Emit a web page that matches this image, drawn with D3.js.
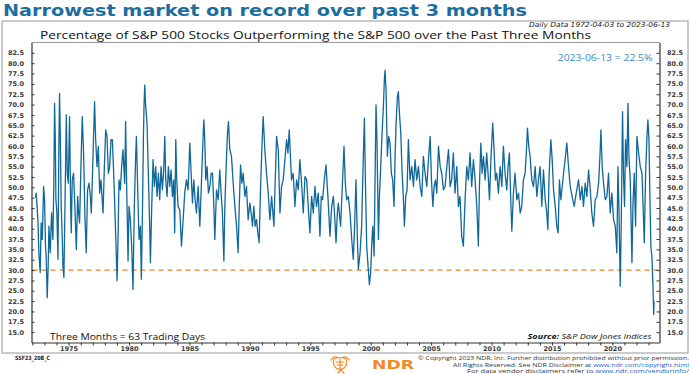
<!DOCTYPE html>
<html><head><meta charset="utf-8">
<script src="https://cdn.jsdelivr.net/npm/d3@7/dist/d3.min.js"></script>
<style>
html,body{margin:0;padding:0;background:#fff;}
svg{display:block;}
text{font-family:"DejaVu Sans",sans-serif;}
</style></head>
<body>
<svg id="c" width="692" height="374"></svg>
<script>
// ---- data (decimal year, % of S&P 500 stocks outperforming) ----
const s1972_1991 = [[1972.27,47.5],[1972.32,48.6],[1972.46,42.2],[1972.54,34.2],[1972.65,29.4],[1972.73,41.4],[1972.82,37.4],[1972.93,50.2],[1973.01,47.0],[1973.09,35.8],[1973.15,32.6],[1973.23,23.3],[1973.31,31.0],[1973.37,40.6],[1973.48,34.2],[1973.59,43.8],[1973.70,37.4],[1973.78,51.8],[1973.84,70.3],[1973.90,61.5],[1973.95,47.0],[1974.03,43.8],[1974.12,32.6],[1974.20,61.5],[1974.25,72.7],[1974.31,63.1],[1974.39,45.4],[1974.48,37.4],[1974.53,31.0],[1974.61,28.2],[1974.70,45.4],[1974.81,67.5],[1974.89,53.4],[1974.97,51.0],[1975.08,67.1],[1975.17,45.4],[1975.22,39.0],[1975.30,51.8],[1975.41,53.4],[1975.52,45.4],[1975.64,35.0],[1975.75,47.8],[1975.83,43.8],[1975.91,41.4],[1976.02,55.0],[1976.13,67.1],[1976.24,58.3],[1976.35,43.0],[1976.46,34.2],[1976.57,49.4],[1976.69,51.0],[1976.80,47.8],[1976.88,43.8],[1977.02,57.5],[1977.15,70.7],[1977.24,61.5],[1977.35,55.0],[1977.46,59.9],[1977.57,48.6],[1977.68,51.8],[1977.85,43.8],[1977.96,55.0],[1978.07,63.9],[1978.18,62.3],[1978.29,53.4],[1978.40,55.0],[1978.51,61.5],[1978.62,61.5],[1978.73,53.4],[1978.84,43.8],[1978.95,33.4],[1979.01,27.4],[1979.09,37.4],[1979.17,51.8],[1979.28,49.4],[1979.39,55.0],[1979.50,59.1],[1979.64,51.0],[1979.72,65.9],[1979.81,49.4],[1979.92,32.2],[1980.00,45.4],[1980.11,42.2],[1980.22,35.8],[1980.33,25.3],[1980.44,45.4],[1980.55,57.5],[1980.61,62.3],[1980.72,49.4],[1980.83,37.4],[1980.94,40.6],[1981.02,27.8],[1981.10,41.4],[1981.19,61.5],[1981.24,69.5],[1981.30,74.7],[1981.38,69.5],[1981.49,65.5],[1981.60,53.4],[1981.71,40.6],[1981.77,31.8],[1981.88,45.4],[1981.99,56.7],[1982.10,50.2],[1982.21,55.0],[1982.32,47.8],[1982.43,53.4],[1982.54,47.0],[1982.65,55.0],[1982.76,49.4],[1982.87,54.2],[1982.96,62.3],[1983.04,51.8],[1983.15,47.8],[1983.26,55.0],[1983.37,50.2],[1983.48,54.2],[1983.59,47.8],[1983.70,51.8],[1983.78,39.0],[1983.87,61.5],[1983.95,51.8],[1984.06,45.4],[1984.20,44.6],[1984.34,35.8],[1984.48,42.2],[1984.61,48.6],[1984.75,51.8],[1984.89,49.4],[1985.03,60.7],[1985.14,53.4],[1985.25,46.2],[1985.36,51.8],[1985.47,47.0],[1985.58,43.8],[1985.72,50.2],[1985.86,40.6],[1985.97,49.4],[1986.08,58.3],[1986.19,66.3],[1986.27,61.5],[1986.35,51.8],[1986.46,55.0],[1986.57,48.6],[1986.69,50.2],[1986.80,53.4],[1986.91,53.4],[1987.02,45.4],[1987.10,37.4],[1987.24,49.4],[1987.38,47.0],[1987.51,54.2],[1987.62,48.6],[1987.73,43.8],[1987.85,32.2],[1987.93,45.4],[1988.07,57.5],[1988.15,63.1],[1988.23,65.9],[1988.34,59.1],[1988.48,57.5],[1988.62,51.0],[1988.76,45.4],[1988.90,40.6],[1989.03,34.2],[1989.12,45.4],[1989.23,55.4],[1989.34,51.0],[1989.45,53.4],[1989.59,47.8],[1989.72,50.2],[1989.86,42.2],[1990.00,46.2],[1990.11,43.8],[1990.22,40.6],[1990.33,45.4],[1990.44,40.6],[1990.55,42.2],[1990.66,39.0],[1990.77,36.6],[1990.88,49.4],[1990.99,59.1],[1991.10,67.1]];
const s1991_2006 = [[1991.24,59.1],[1991.38,53.4],[1991.52,48.6],[1991.66,42.2],[1991.80,47.8],[1991.99,40.6],[1992.10,51.8],[1992.21,62.3],[1992.35,59.1],[1992.49,43.8],[1992.62,50.2],[1992.76,51.8],[1992.90,56.7],[1993.04,61.5],[1993.15,58.3],[1993.26,63.9],[1993.37,56.7],[1993.45,51.8],[1993.59,53.4],[1993.73,45.4],[1993.87,51.8],[1994.01,49.4],[1994.14,56.7],[1994.28,51.0],[1994.42,43.8],[1994.56,52.6],[1994.70,51.8],[1994.83,45.4],[1994.97,39.0],[1995.11,47.8],[1995.25,43.8],[1995.39,50.2],[1995.52,45.4],[1995.66,48.6],[1995.80,38.2],[1995.91,47.8],[1996.02,47.0],[1996.16,51.8],[1996.30,55.4],[1996.46,47.8],[1996.63,38.2],[1996.77,45.4],[1996.91,47.8],[1997.02,43.0],[1997.13,36.6],[1997.24,43.8],[1997.32,46.2],[1997.40,43.8],[1997.51,40.6],[1997.65,50.2],[1997.79,59.9],[1997.90,51.0],[1998.01,47.0],[1998.15,47.8],[1998.29,43.8],[1998.43,37.4],[1998.56,32.6],[1998.67,40.6],[1998.78,51.8],[1998.90,37.4],[1998.98,30.2],[1999.12,34.2],[1999.25,40.6],[1999.39,57.5],[1999.48,66.7],[1999.56,51.8],[1999.67,35.8],[1999.78,31.0],[1999.89,26.5],[2000.00,29.4],[2000.08,35.8],[2000.17,40.6],[2000.28,33.4],[2000.36,51.8],[2000.44,69.9],[2000.52,61.5],[2000.64,37.4],[2000.72,47.8],[2000.83,55.0],[2000.94,63.1],[2001.05,69.5],[2001.13,75.9],[2001.19,78.3],[2001.27,73.5],[2001.38,57.5],[2001.49,62.3],[2001.60,60.7],[2001.71,53.4],[2001.82,51.8],[2001.93,45.4],[2002.02,57.5],[2002.10,65.5],[2002.21,71.9],[2002.29,73.1],[2002.38,67.9],[2002.49,63.1],[2002.60,53.4],[2002.71,47.0],[2002.79,40.6],[2002.90,47.8],[2003.01,49.4],[2003.12,61.5],[2003.26,51.8],[2003.40,55.0],[2003.54,50.2],[2003.67,56.7],[2003.81,51.8],[2003.95,55.0],[2004.09,50.2],[2004.23,47.8],[2004.36,57.5],[2004.50,53.4],[2004.64,50.2],[2004.78,56.7],[2004.92,62.3],[2005.03,51.8],[2005.14,45.4],[2005.25,50.2],[2005.36,51.8],[2005.47,48.6],[2005.61,59.9],[2005.75,55.0],[2005.88,53.4],[2006.02,49.4],[2006.16,50.2],[2006.30,55.0],[2006.44,59.1],[2006.57,50.2]];
const s2006_2023 = [[2006.70,51.8],[2006.84,58.3],[2006.98,48.6],[2007.12,55.0],[2007.26,45.4],[2007.39,47.8],[2007.53,38.2],[2007.67,35.8],[2007.81,47.0],[2007.95,55.0],[2008.08,51.8],[2008.22,58.3],[2008.36,50.2],[2008.50,56.7],[2008.64,51.8],[2008.78,45.4],[2008.91,35.8],[2009.00,50.2],[2009.11,60.7],[2009.22,53.4],[2009.33,57.5],[2009.47,51.8],[2009.60,58.3],[2009.71,53.4],[2009.83,47.0],[2009.96,57.5],[2010.10,65.5],[2010.21,59.1],[2010.32,51.8],[2010.43,53.4],[2010.57,48.6],[2010.71,55.0],[2010.85,50.2],[2010.98,59.9],[2011.12,53.4],[2011.26,49.4],[2011.37,55.0],[2011.48,58.3],[2011.59,47.0],[2011.68,39.4],[2011.81,48.6],[2011.95,53.4],[2012.09,47.0],[2012.23,48.6],[2012.37,43.8],[2012.50,45.4],[2012.64,51.8],[2012.78,53.4],[2012.89,59.1],[2012.97,64.3],[2013.08,59.9],[2013.19,57.5],[2013.33,51.8],[2013.47,50.2],[2013.61,55.0],[2013.75,47.8],[2013.88,51.8],[2014.02,55.0],[2014.16,45.4],[2014.30,54.2],[2014.44,47.0],[2014.57,43.8],[2014.66,39.8],[2014.77,53.4],[2014.91,61.5],[2015.02,56.7],[2015.13,49.4],[2015.27,45.4],[2015.40,40.6],[2015.51,39.0],[2015.62,51.8],[2015.74,47.0],[2015.85,50.2],[2015.96,53.4],[2016.09,56.7],[2016.23,60.7],[2016.37,55.0],[2016.51,50.2],[2016.67,47.8],[2016.84,45.4],[2017.01,48.6],[2017.20,51.8],[2017.34,47.0],[2017.48,50.2],[2017.61,45.4],[2017.75,51.0],[2017.89,47.8],[2018.03,54.2],[2018.17,49.4],[2018.30,43.8],[2018.44,40.6],[2018.58,47.0],[2018.72,47.8],[2018.86,51.0],[2018.97,57.5],[2019.05,63.9],[2019.16,55.0],[2019.27,51.0],[2019.41,47.0],[2019.55,47.8],[2019.68,53.4],[2019.82,43.8],[2019.96,48.6],[2020.10,42.2],[2020.24,40.6],[2020.37,34.2],[2020.46,55.0],[2020.54,45.4],[2020.65,26.1],[2020.73,40.6],[2020.84,68.3],[2020.93,51.8],[2021.01,45.4],[2021.09,61.5],[2021.20,55.0],[2021.29,70.3],[2021.37,57.5],[2021.48,51.8],[2021.62,31.8],[2021.70,45.4],[2021.81,53.4],[2021.92,40.6],[2022.03,62.3],[2022.17,58.3],[2022.31,55.0],[2022.45,53.4],[2022.56,43.8],[2022.64,36.6],[2022.75,53.4],[2022.86,62.3],[2022.94,66.3],[2023.03,61.5],[2023.11,47.0],[2023.19,35.4],[2023.27,33.4],[2023.36,26.1],[2023.42,19.3],[2023.45,22.5]];
const yTicks = [15,17.5,20,22.5,25,27.5,30,32.5,35,37.5,40,42.5,45,47.5,50,52.5,55,57.5,60,62.5,65,67.5,70,72.5,75,77.5,80,82.5];
const xTickYears = d3.range(1972, 2024);
const xLabelYears = [1975,1980,1985,1990,1995,2000,2005,2010,2015,2020];
const thresholdLevel = 30;
const lastLabel = "2023-06-13 = 22.5%";

const series = s1972_1991.concat(s1991_2006, s2006_2023);

const svg = d3.select("#c");
const L = 31.5, R = 659.5, T = 42.5, B = 342.5;
const x = d3.scaleLinear().domain([1971.93, 2023.9]).range([L, R]);
const y = d3.scaleLinear().domain([12.5, 85]).range([B, T]);

// outer frame
svg.append("rect").attr("x",2).attr("y",21).attr("width",686).attr("height",332)
  .attr("fill","none").attr("stroke","#a8a8a8").attr("stroke-width",1.2);

// title
svg.append("text").attr("x",3).attr("y",16).attr("font-size",15.5).attr("font-weight","bold")
  .attr("fill","#1c6e9e").attr("textLength",524).attr("lengthAdjust","spacingAndGlyphs")
  .text("Narrowest market on record over past 3 months");

svg.append("text").attr("x",670).attr("y",27).attr("text-anchor","end").attr("font-size",6.8)
  .attr("font-style","italic").attr("fill","#222").attr("textLength",141).attr("lengthAdjust","spacingAndGlyphs")
  .text("Daily Data 1972-04-03 to 2023-06-13");

svg.append("text").attr("x",40).attr("y",38.5).attr("font-size",10).attr("fill","#111")
  .style("font-family","'Open Sans',sans-serif")
  .attr("textLength",551).attr("lengthAdjust","spacingAndGlyphs")
  .text("Percentage of S&P 500 Stocks Outperforming the S&P 500 over the Past Three Months");

// plot frame top
svg.append("line").attr("x1",L).attr("x2",R).attr("y1",T).attr("y2",T).attr("stroke","#999").attr("stroke-width",1);

// threshold dashed line
svg.append("line").attr("x1",L+1).attr("x2",R-1).attr("y1",y(thresholdLevel)).attr("y2",y(thresholdLevel))
  .attr("stroke","#f2a35e").attr("stroke-width",1.6).attr("stroke-dasharray","5,4");

// series line
svg.append("path").datum(series)
  .attr("d", d3.line().x(d=>x(d[0])).y(d=>y(d[1])))
  .attr("fill","none").attr("stroke","#10689a").attr("stroke-width",1.3).attr("stroke-linejoin","round");

// axes
const fmt = d3.format(".1f");
function styleAxis(g){
  g.select(".domain").attr("stroke","#333").attr("stroke-width",1.2);
  g.selectAll(".tick line").attr("stroke","#333");
  g.selectAll("text").attr("font-size",6.5).attr("font-weight","bold").attr("fill","#3a3a3a")
    .style("font-family","'DejaVu Sans',sans-serif");
}
svg.append("g").attr("transform",`translate(${L},0)`)
  .call(d3.axisLeft(y).tickValues(yTicks).tickSize(-3).tickSizeOuter(0).tickPadding(7.5).tickFormat(fmt))
  .call(styleAxis);
svg.append("g").attr("transform",`translate(${R},0)`)
  .call(d3.axisRight(y).tickValues(yTicks).tickSize(-3).tickSizeOuter(0).tickPadding(7.5).tickFormat(fmt))
  .call(styleAxis);
svg.append("g").attr("transform",`translate(0,${B})`)
  .call(d3.axisBottom(x).tickValues(xTickYears).tickSize(3).tickSizeOuter(0).tickPadding(1)
    .tickFormat(d => xLabelYears.includes(d) ? String(d) : ""))
  .call(styleAxis);

// annotations
svg.append("text").attr("x",652.7).attr("y",60.5).attr("text-anchor","end").attr("font-size",8.5)
  .attr("fill","#3b8bc0").style("font-family","'Open Sans',sans-serif")
  .attr("textLength",95).attr("lengthAdjust","spacingAndGlyphs").text(lastLabel);

svg.append("text").attr("x",50).attr("y",339.5).attr("font-size",9).attr("fill","#111")
  .style("font-family","'Open Sans',sans-serif")
  .attr("textLength",155).attr("lengthAdjust","spacingAndGlyphs").text("Three Months = 63 Trading Days");

const src = svg.append("text").attr("x",651.5).attr("y",339).attr("text-anchor","end").attr("font-size",7.5)
  .attr("font-style","italic").attr("fill","#111").style("font-family","'Open Sans',sans-serif")
  .attr("textLength",124).attr("lengthAdjust","spacingAndGlyphs");
src.append("tspan").attr("font-weight","bold").text("Source:");
src.append("tspan").text("  S&P Dow Jones Indices");

// footer
svg.append("text").attr("x",15).attr("y",360).attr("font-size",5.8).attr("font-weight","bold").attr("fill","#222")
  .attr("textLength",35).attr("lengthAdjust","spacingAndGlyphs").text("SSF23_20B_C");

const logo = svg.append("g").attr("fill","none").attr("stroke","#f08a24").attr("stroke-width",1.2).attr("stroke-linecap","round");
logo.append("path").attr("d","M331,360 q3,-5 7,-2 M349,360 q-3,-5 -7,-2 M334,359 q6,-3 12,0 q2,5 -2,9 q-4,3 -8,0 q-4,-4 -2,-9");
logo.append("path").attr("d","M336,362 l8,0 M337,365 l6,0 M340,359 l0,11 M341,370 l-3,3 M341,370 l3,3");
svg.append("text").attr("x",372).attr("y",369).attr("font-size",13).attr("font-weight","bold").attr("fill","#f08a24")
  .attr("textLength",42).attr("lengthAdjust","spacingAndGlyphs").text("NDR");

const foot = [
  {y:359.5, len:271, parts:[["© Copyright 2023 NDR, Inc. Further distribution prohibited without prior permission.","#333"]]},
  {y:366.5, len:236, parts:[["All Rights Reserved. See NDR Disclaimer at ","#333"],["www.ndr.com/copyright.html","#1d5fbf"]]},
  {y:373.3, len:222, parts:[["For data vendor disclaimers refer to ","#333"],["www.ndr.com/vendorinfo/","#1d5fbf"]]}
];
foot.forEach(f => {
  const t = svg.append("text").attr("x",689).attr("y",f.y).attr("text-anchor","end").attr("font-size",6)
    .style("font-family","'Open Sans',sans-serif")
    .attr("textLength",f.len).attr("lengthAdjust","spacingAndGlyphs");
  f.parts.forEach(p => t.append("tspan").attr("fill",p[1]).text(p[0]));
});
</script>
</body></html>
